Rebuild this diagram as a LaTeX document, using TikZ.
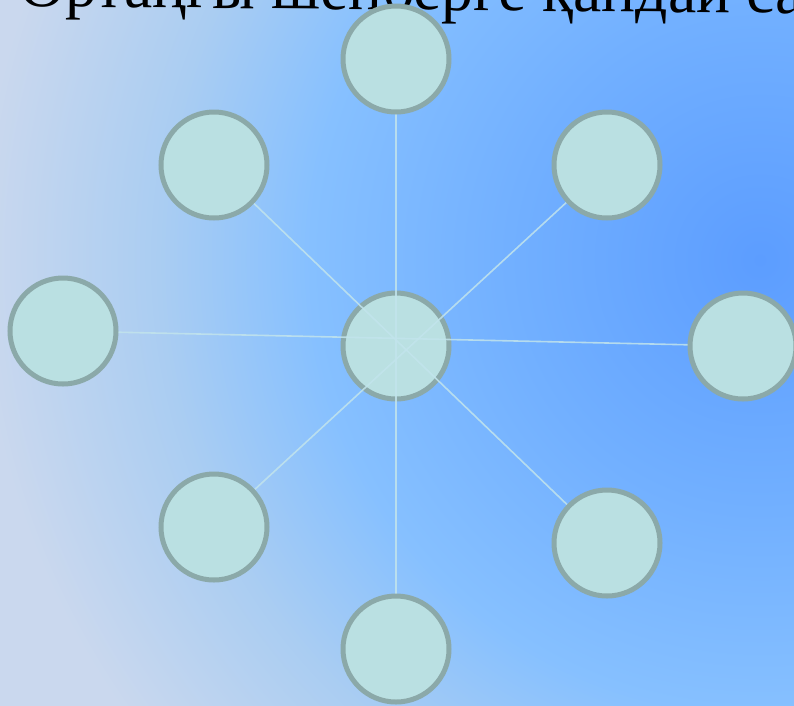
\documentclass[tikz,border=0pt]{standalone}
\usepackage{fontspec}
\setmainfont{Liberation Serif}
\pgfdeclarelayer{bg}
\pgfdeclarelayer{cen}
\pgfdeclarelayer{lines}
\pgfsetlayers{bg,cen,lines,main}
\definecolor{c0}{HTML}{5C9DFF}
\definecolor{c1}{HTML}{72B0FF}
\definecolor{c2}{HTML}{86C0FF}
\definecolor{c3}{HTML}{AACDF2}
\definecolor{c4}{HTML}{CAD8EE}
\definecolor{bubblefill}{HTML}{BAE0E2}
\definecolor{bubbleedge}{HTML}{8BA9A9}
\definecolor{spoke}{HTML}{C2E4EC}
\pgfdeclareradialshading{bgshade}{\pgfpoint{0bp}{0bp}}{color(0bp)=(c0); color(7bp)=(c1); color(12.5bp)=(c2); color(16.7bp)=(c3); color(21.7bp)=(c4); color(50bp)=(c4)}
\tikzset{
  bubble/.style={circle, minimum size=106pt, inner sep=0pt, line width=5pt, draw=bubbleedge, fill=bubblefill},
  spokeline/.style={draw=spoke, line width=1.6pt, opacity=0.85},
  titletext/.style={anchor=base west, inner sep=0pt, font=\fontsize{63.5}{70}\selectfont, text=black}
}
\begin{document}
\begin{tikzpicture}[x=1pt,y=1pt]
\useasboundingbox (0,0) rectangle (794,-705);
\clip (0,0) rectangle (794,-705);
\begin{pgfonlayer}{bg}
\shade[shading=bgshade] (760,-260) circle (900);
\end{pgfonlayer}
\node[titletext, rotate=-0.5] (title) at (19,-6.5) {Ортаңғы шеңберге қандай са};
\begin{pgfonlayer}{cen}
\node[bubble] (c) at (396,-346) {};
\end{pgfonlayer}
\node[bubble] (n) at (396,-59) {};
\node[bubble] (nw) at (214,-165) {};
\node[bubble] (ne) at (607,-165) {};
\node[bubble] (w) at (63,-331) {};
\node[bubble] (e) at (743,-346) {};
\node[bubble] (sw) at (214,-527) {};
\node[bubble] (se) at (607,-543) {};
\node[bubble] (s) at (396,-649) {};
\begin{pgfonlayer}{lines}
\draw[spokeline] (n.center) -- (s.center);
\draw[spokeline] (w.center) -- (e.center);
\draw[spokeline] (nw.center) -- (se.center);
\draw[spokeline] (ne.center) -- (sw.center);
\end{pgfonlayer}
\end{tikzpicture}
\end{document}
